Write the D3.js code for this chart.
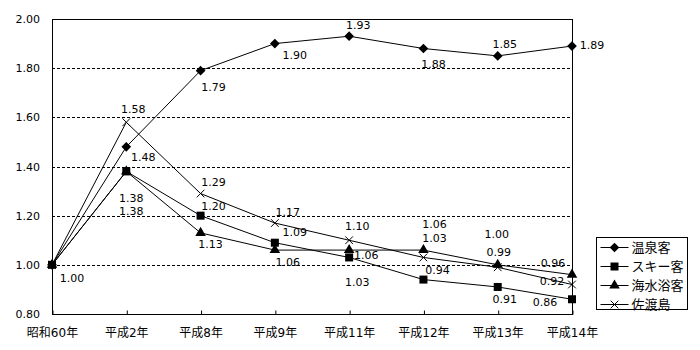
<!DOCTYPE html>
<html>
<head>
<meta charset="utf-8">
<script src="https://cdn.jsdelivr.net/npm/d3@7"></script>
<style>
  html, body { margin: 0; padding: 0; background: #fff; }
  svg { display: block; }
  text { font-family: "DejaVu Sans", "Noto Sans CJK JP", sans-serif; font-size: 11px; fill: #000; }
</style>
</head>
<body>
<div id="chart"></div>
<script>
// Years on the horizontal axis
const years = ["昭和60年", "平成2年", "平成8年", "平成9年", "平成11年", "平成12年", "平成13年", "平成14年"];

// Index values (昭和60年 = 1.00) for each visitor group
const onsen   = [1.00, 1.48, 1.79, 1.90, 1.93, 1.88, 1.85, 1.89];
const ski     = [1.00, 1.38, 1.20, 1.09, 1.03, 0.94, 0.91, 0.86];
const kaisui  = [1.00, 1.38, 1.13, 1.06, 1.06, 1.06, 1.00, 0.96];
const sado    = [1.00, 1.58, 1.29, 1.17, 1.10, 1.03, 0.99, 0.92];

const seriesNames = ["温泉客", "スキー客", "海水浴客", "佐渡島"];
const yTicks = [0.80, 1.00, 1.20, 1.40, 1.60, 1.80, 2.00];

// Label offsets (dx, dy from the point) so that labels avoid each other
const labelOffsets = [
  [[20, 14], [17, 11], [13, 17], [20, 12], [9, -11], [10, 16], [7, -11], [20, -1]],
  [[0, 0], [5, 27], [13, -9], [20, -10], [8, 25], [14, -9], [7, 13], [-27, 3]],
  [[0, 0], [5, 40], [10, 12], [13, 12], [17, 5], [11, -26], [-1, -30], [-19, -11]],
  [[0, 0], [7, -13], [13, -11], [13, -11], [8, -14], [11, -19], [1, -15], [-20, -3]]
];

const W = 700, H = 350;
const margin = { left: 52, right: 128, top: 19, bottom: 36 };
const iw = W - margin.left - margin.right;
const ih = H - margin.top - margin.bottom;

const svg = d3.select("#chart").append("svg")
  .attr("width", W).attr("height", H);

const g = svg.append("g").attr("transform", `translate(${margin.left},${margin.top})`);

const x = d3.scalePoint().domain(years).range([0, iw]);
const y = d3.scaleLinear().domain([0.80, 2.00]).range([ih, 0]);

// Dashed gridlines
g.append("g").selectAll("line")
  .data(yTicks.filter(t => t > 0.80 && t < 2.00))
  .join("line")
  .attr("x1", 0).attr("x2", iw)
  .attr("y1", d => Math.round(y(d)) + 0.5).attr("y2", d => Math.round(y(d)) + 0.5)
  .attr("stroke", "#000").attr("stroke-width", 1)
  .attr("stroke-dasharray", "3,2");

// Plot frame
g.append("rect")
  .attr("x", 0.5).attr("y", 0.5)
  .attr("width", iw).attr("height", ih)
  .attr("fill", "none").attr("stroke", "#000").attr("stroke-width", 1);

// Y axis labels
const yAxis = d3.axisLeft(y).tickValues(yTicks).tickFormat(d3.format(".2f")).tickSize(0).tickPadding(12);
g.append("g").call(yAxis).call(a => a.select(".domain").remove())
  .selectAll("text").style("font-size", "11px").attr("font-family", null);

// X axis: small inward ticks and year labels
const xAxis = d3.axisBottom(x).tickSize(-4).tickPadding(14);
const xa = g.append("g").attr("transform", `translate(0,${ih + 0.5})`).call(xAxis);
xa.select(".domain").remove();
xa.selectAll("line").attr("stroke", "#000").attr("transform", "translate(0.5,0)");
xa.selectAll("text").style("font-size", "12px").attr("font-family", null);

const allSeries = [onsen, ski, kaisui, sado];
const line = d3.line().x((d, i) => x(years[i])).y(d => y(d));

// Marker shapes
const sym = [
  d3.symbol().type(d3.symbolDiamond2).size(60),
  d3.symbol().type(d3.symbolSquare).size(64),
  d3.symbol().type(d3.symbolTriangle).size(48),
  d3.symbol().type(d3.symbolTimes).size(40)
];
const symStroke = [false, false, false, true];

allSeries.forEach((vals, s) => {
  g.append("path").datum(vals)
    .attr("d", line).attr("fill", "none")
    .attr("stroke", "#000").attr("stroke-width", 1);

  g.append("g").selectAll("path")
    .data(vals).join("path")
    .attr("transform", (d, i) => `translate(${x(years[i])},${y(d)})`)
    .attr("d", sym[s])
    .attr("fill", symStroke[s] ? "none" : "#000")
    .attr("stroke", symStroke[s] ? "#000" : "none")
    .attr("stroke-width", 1);
});

// Value labels (the shared 1.00 start point is labelled once)
allSeries.forEach((vals, s) => {
  g.append("g").selectAll("text")
    .data(vals.map((v, i) => ({ v, i })).filter(d => !(s > 0 && d.i === 0)))
    .join("text")
    .attr("x", d => x(years[d.i]) + labelOffsets[s][d.i][0])
    .attr("y", d => y(d.v) + labelOffsets[s][d.i][1])
    .attr("text-anchor", "middle")
    .attr("dominant-baseline", "central")
    .text(d => d3.format(".2f")(d.v));
});

// Legend
const lg = svg.append("g").attr("transform", "translate(596.5,237.5)");
lg.append("rect").attr("width", 91).attr("height", 72)
  .attr("fill", "#fff").attr("stroke", "#000").attr("stroke-width", 1);
seriesNames.forEach((name, s) => {
  const ry = 10 + s * 19;
  lg.append("line").attr("x1", 4).attr("x2", 32).attr("y1", ry).attr("y2", ry)
    .attr("stroke", "#000").attr("stroke-width", 1);
  lg.append("path").attr("transform", `translate(18,${ry})`).attr("d", sym[s])
    .attr("fill", symStroke[s] ? "none" : "#000")
    .attr("stroke", symStroke[s] ? "#000" : "none");
  lg.append("text").attr("x", 35).attr("y", ry).attr("dominant-baseline", "central")
    .style("font-size", "13px").text(name);
});
</script>
</body>
</html>
